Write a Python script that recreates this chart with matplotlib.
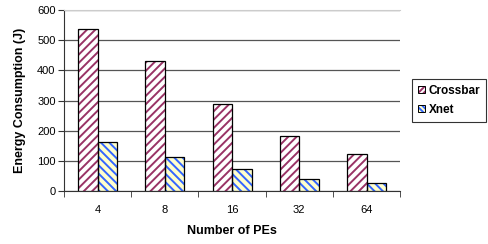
import matplotlib.pyplot as plt
import numpy as np

plt.rcParams['font.family'] = ['Liberation Sans', 'DejaVu Sans']
plt.rcParams['hatch.linewidth'] = 1.4

# Datos
pes = ['4', '8', '16', '32', '64']
crossbar = [536, 431, 287, 184, 123]
xnet = [163, 113, 72, 40, 28]

fig = plt.figure(figsize=(4.88, 2.44), dpi=100)
ax = fig.add_axes([0.131, 0.217, 0.689, 0.742])

x = np.arange(len(pes))
w = 0.29

# relleno con rayado (color del rayado = edgecolor) + borde negro encima
ax.bar(x - w / 2, crossbar, w, color='white', edgecolor='#993366', linewidth=0,
       hatch='////', zorder=3)
ax.bar(x - w / 2, crossbar, w, fill=False, edgecolor='black', linewidth=0.9, zorder=4)
ax.bar(x + w / 2, xnet, w, color='#FFFFCC', edgecolor='#3366FF', linewidth=0,
       hatch='\\\\\\\\', zorder=3)
ax.bar(x + w / 2, xnet, w, fill=False, edgecolor='black', linewidth=0.9, zorder=4)

# handles para la leyenda
h1 = plt.Rectangle((0, 0), 1, 1, facecolor='white', edgecolor='#993366', hatch='//////', linewidth=0)
h2 = plt.Rectangle((0, 0), 1, 1, facecolor='#FFFFCC', edgecolor='#3366FF', hatch='\\\\\\\\\\\\', linewidth=0)
hb = plt.Rectangle((0, 0), 1, 1, fill=False, edgecolor='black', linewidth=0.7)

ax.set_xlim(-0.5, len(pes) - 0.5)
ax.set_ylim(0, 600)
ax.set_yticks(range(0, 601, 100))
ax.yaxis.grid(True, color='#555555', linewidth=0.9, zorder=0)
ax.set_axisbelow(True)

ax.set_xticks(x)
ax.set_xticklabels(pes, fontsize=8)
ax.tick_params(axis='x', length=0, pad=10)
ax.set_xticks(np.arange(-0.5, len(pes)), minor=True)
ax.tick_params(axis='x', which='minor', length=4, direction='out', color='#333333')
ax.tick_params(axis='y', labelsize=8, length=4, color='#333333', pad=2)

ax.spines['right'].set_visible(False)
ax.spines['top'].set_color('#cccccc')
ax.spines['left'].set_color('#333333')
ax.spines['bottom'].set_color('#333333')

ax.set_xlabel('Number of PEs', fontsize=9, fontweight='bold', labelpad=7)
ax.set_ylabel('Energy Consumption (J)', fontsize=9, fontweight='bold', labelpad=8)

leg = ax.legend([(h1, hb), (h2, hb)], ['Crossbar', 'Xnet'], loc='upper left',
                bbox_to_anchor=(1.036, 0.62),
                prop={'weight': 'bold', 'size': 8.5}, frameon=True, fancybox=False,
                edgecolor='black', handlelength=0.6, handleheight=0.6,
                handletextpad=0.3, borderpad=0.5, labelspacing=0.6,
                borderaxespad=0)
leg.get_frame().set_linewidth(0.8)

plt.savefig('out.png', dpi=100)
